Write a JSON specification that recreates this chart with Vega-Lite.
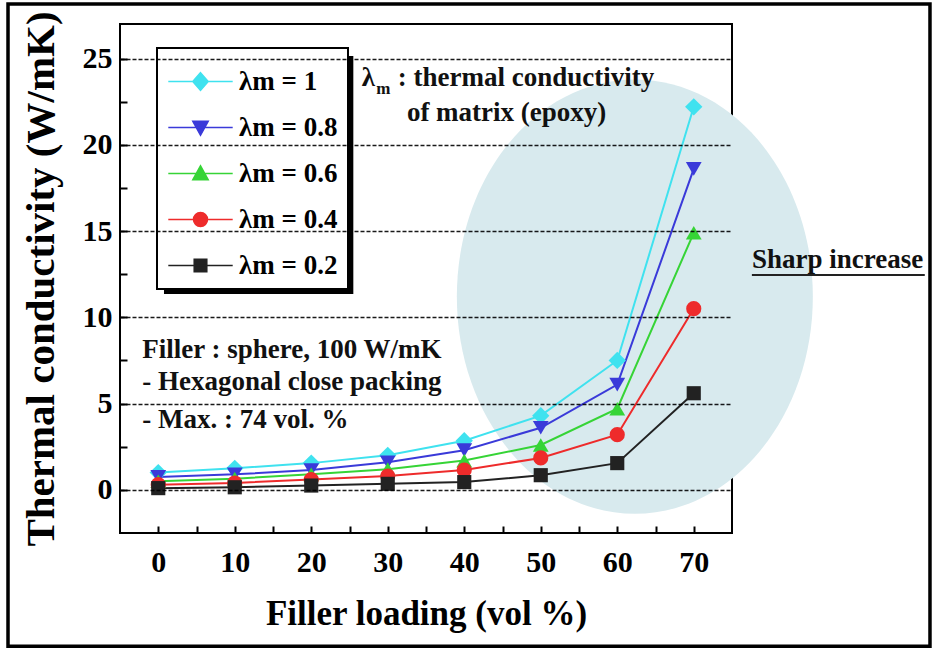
{
  "$schema": "https://vega.github.io/schema/vega-lite/v6.json",
  "width": 612,
  "height": 509,
  "autosize": {"type": "none"},
  "padding": {"left": 120, "top": 24, "right": 204, "bottom": 116},
  "background": "white",
  "config": {
    "view": {"stroke": "black", "strokeWidth": 2},
    "font": "Liberation Serif",
    "axis": {"labelFont": "Liberation Serif", "titleFont": "Liberation Serif", "labelFontWeight": "bold", "titleFontWeight": "bold", "labelColor": "black", "titleColor": "black", "domainColor": "black", "tickColor": "black", "domainWidth": 2, "tickWidth": 2}
  },
  "datasets": {
    "main": [
      {"series": "λm = 1", "loading": 0, "conductivity": 1.0},
      {"series": "λm = 1", "loading": 10, "conductivity": 1.25},
      {"series": "λm = 1", "loading": 20, "conductivity": 1.55},
      {"series": "λm = 1", "loading": 30, "conductivity": 2.0},
      {"series": "λm = 1", "loading": 40, "conductivity": 2.85},
      {"series": "λm = 1", "loading": 50, "conductivity": 4.3},
      {"series": "λm = 1", "loading": 60, "conductivity": 7.5},
      {"series": "λm = 1", "loading": 70, "conductivity": 22.2},
      {"series": "λm = 0.8", "loading": 0, "conductivity": 0.75},
      {"series": "λm = 0.8", "loading": 10, "conductivity": 0.9},
      {"series": "λm = 0.8", "loading": 20, "conductivity": 1.15},
      {"series": "λm = 0.8", "loading": 30, "conductivity": 1.6},
      {"series": "λm = 0.8", "loading": 40, "conductivity": 2.3},
      {"series": "λm = 0.8", "loading": 50, "conductivity": 3.6},
      {"series": "λm = 0.8", "loading": 60, "conductivity": 6.1},
      {"series": "λm = 0.8", "loading": 70, "conductivity": 18.6},
      {"series": "λm = 0.6", "loading": 0, "conductivity": 0.5},
      {"series": "λm = 0.6", "loading": 10, "conductivity": 0.65},
      {"series": "λm = 0.6", "loading": 20, "conductivity": 0.9},
      {"series": "λm = 0.6", "loading": 30, "conductivity": 1.2},
      {"series": "λm = 0.6", "loading": 40, "conductivity": 1.7},
      {"series": "λm = 0.6", "loading": 50, "conductivity": 2.6},
      {"series": "λm = 0.6", "loading": 60, "conductivity": 4.7},
      {"series": "λm = 0.6", "loading": 70, "conductivity": 14.9},
      {"series": "λm = 0.4", "loading": 0, "conductivity": 0.3},
      {"series": "λm = 0.4", "loading": 10, "conductivity": 0.4},
      {"series": "λm = 0.4", "loading": 20, "conductivity": 0.6},
      {"series": "λm = 0.4", "loading": 30, "conductivity": 0.8},
      {"series": "λm = 0.4", "loading": 40, "conductivity": 1.15},
      {"series": "λm = 0.4", "loading": 50, "conductivity": 1.85},
      {"series": "λm = 0.4", "loading": 60, "conductivity": 3.2},
      {"series": "λm = 0.4", "loading": 70, "conductivity": 10.5},
      {"series": "λm = 0.2", "loading": 0, "conductivity": 0.1},
      {"series": "λm = 0.2", "loading": 10, "conductivity": 0.15},
      {"series": "λm = 0.2", "loading": 20, "conductivity": 0.25},
      {"series": "λm = 0.2", "loading": 30, "conductivity": 0.35},
      {"series": "λm = 0.2", "loading": 40, "conductivity": 0.45},
      {"series": "λm = 0.2", "loading": 50, "conductivity": 0.85},
      {"series": "λm = 0.2", "loading": 60, "conductivity": 1.55},
      {"series": "λm = 0.2", "loading": 70, "conductivity": 5.6}
    ]
  },
  "layer": [
    {
      "data": {"values": [{}]},
      "mark": {"type": "rect", "fill": "white", "fillOpacity": 0, "stroke": "black", "strokeWidth": 3.5},
      "encoding": {
        "x": {"datum": -19.64, "type": "quantitative"},
        "x2": {"datum": 100.88},
        "y": {"datum": 28.16, "type": "quantitative"},
        "y2": {"datum": -9.06}
      }
    },
    {
      "data": {"values": [{}]},
      "mark": {"type": "point", "filled": true, "color": "#d8eaee", "opacity": 1, "size": 126736,
        "shape": "M1,0C1,0.674 0.552,1.22 0,1.22C-0.552,1.22 -1,0.674 -1,0C-1,-0.674 -0.552,-1.22 0,-1.22C0.552,-1.22 1,-0.674 1,0Z"},
      "encoding": {
        "x": {"datum": 62.3, "type": "quantitative"},
        "y": {"datum": 11.2, "type": "quantitative"}
      }
    },
    {
      "data": {"values": [{}]},
      "mark": {"type": "rect", "fill": "black"},
      "encoding": {
        "x": {"datum": 0.75, "type": "quantitative"},
        "x2": {"datum": 25.5},
        "y": {"datum": 25.15, "type": "quantitative"},
        "y2": {"datum": 11.35}
      }
    },
    {
      "data": {"name": "main"},
      "encoding": {
        "x": {
          "field": "loading", "type": "quantitative",
          "scale": {"domain": [-5, 75], "nice": false, "zero": false},
          "axis": {
            "title": "Filler loading (vol %)", "titleFontSize": 35, "titlePadding": 19,
            "labelFontSize": 30, "labelPadding": 14, "grid": false, "zindex": 1,
            "domain": false, "offset": -7, "ticks": true, "tickSize": 7,
            "values": [0, 5, 10, 15, 20, 25, 30, 35, 40, 45, 50, 55, 60, 65, 70],
            "labelExpr": "datum.value % 10 === 0 ? datum.label : ''"
          }
        },
        "y": {
          "field": "conductivity", "type": "quantitative",
          "scale": {"domain": [-2.5, 27], "nice": false, "zero": false},
          "axis": {
            "title": "Thermal conductivity (W/mK)", "titleFontSize": 41, "titlePadding": 20,
            "labelFontSize": 30, "labelPadding": 8, "zindex": 1,
            "domain": false, "offset": -7, "ticks": true, "tickSize": 7,
            "values": [0, 2.5, 5, 7.5, 10, 12.5, 15, 17.5, 20, 22.5, 25],
            "labelExpr": "datum.value % 5 === 0 ? datum.label : ''",
            "grid": true, "gridColor": "black", "gridDash": [4, 2], "gridWidth": 1.5,
            "gridOpacity": {"condition": {"test": "datum.value % 5 === 0", "value": 0.9}, "value": 0}
          }
        },
        "color": {
          "field": "series", "type": "nominal",
          "sort": ["λm = 1", "λm = 0.8", "λm = 0.6", "λm = 0.4", "λm = 0.2"],
          "scale": {"domain": ["λm = 1", "λm = 0.8", "λm = 0.6", "λm = 0.4", "λm = 0.2"], "range": ["#3fe2ef", "#3a3ad9", "#36d436", "#ee2b2b", "#222222"]},
          "legend": {
            "orient": "none", "legendX": 37, "legendY": 24, "title": " ", "titleFontSize": 6, "titlePadding": 4,
            "fillColor": "white", "strokeColor": "black", "padding": 10,
            "labelFont": "Liberation Serif", "labelFontWeight": "bold", "labelFontSize": 27, "labelColor": "black",
            "symbolSize": 196, "symbolOffset": 20, "labelOffset": 25, "rowPadding": 18,
            "encode": {
              "legend": {"update": {"strokeWidth": {"value": 2}}},
              "symbols": {
                "update": {
                  "shape": {"signal": "['M-4.6,0L4.6,0M0,-1.25L1.1,0L0,1.25L-1.1,0Z','M-4.6,0L4.6,0M-1.1,-0.9L1.1,-0.9L0,1.1Z','M-4.6,0L4.6,0M-1.1,0.9L1.1,0.9L0,-1.1Z','M-4.6,0L4.6,0M1,0C1,0.552 0.552,1 0,1C-0.552,1 -1,0.552 -1,0C-1,-0.552 -0.552,-1 0,-1C0.552,-1 1,-0.552 1,0Z','M-4.6,0L4.6,0M-0.9,-0.9L0.9,-0.9L0.9,0.9L-0.9,0.9Z'][datum.index]"},
                  "strokeWidth": {"value": 1.5}
                }
              }
            }
          }
        }
      },
      "layer": [
        {"mark": {"type": "line", "strokeWidth": 2}},
        {"transform": [{"filter": "datum.series === 'λm = 1'"}], "mark": {"type": "point", "shape": "diamond", "filled": true, "size": 300, "opacity": 1}},
        {"transform": [{"filter": "datum.series === 'λm = 0.8'"}], "mark": {"type": "point", "shape": "triangle-down", "filled": true, "size": 250, "opacity": 1}},
        {"transform": [{"filter": "datum.series === 'λm = 0.6'"}], "mark": {"type": "point", "shape": "triangle-up", "filled": true, "size": 250, "opacity": 1}},
        {"transform": [{"filter": "datum.series === 'λm = 0.4'"}], "mark": {"type": "point", "shape": "circle", "filled": true, "size": 230, "opacity": 1}},
        {"transform": [{"filter": "datum.series === 'λm = 0.2'"}], "mark": {"type": "point", "shape": "square", "filled": true, "size": 200, "opacity": 1}}
      ]
    },
    {
      "data": {"values": [{}]},
      "mark": {"type": "text", "font": "Liberation Serif", "fontWeight": "bold", "fontSize": 27, "align": "left", "baseline": "alphabetic", "color": "#111"},
      "encoding": {"x": {"datum": 26.6, "type": "quantitative"}, "y": {"datum": 23.41, "type": "quantitative"}, "text": {"value": "λ"}}
    },
    {
      "data": {"values": [{}]},
      "mark": {"type": "text", "font": "Liberation Serif", "fontWeight": "bold", "fontSize": 17, "align": "left", "baseline": "alphabetic", "color": "#111"},
      "encoding": {"x": {"datum": 28.5, "type": "quantitative"}, "y": {"datum": 22.95, "type": "quantitative"}, "text": {"value": "m"}}
    },
    {
      "data": {"values": [{}]},
      "mark": {"type": "text", "font": "Liberation Serif", "fontWeight": "bold", "fontSize": 27, "align": "left", "baseline": "alphabetic", "color": "#111"},
      "encoding": {"x": {"datum": 31.3, "type": "quantitative"}, "y": {"datum": 23.41, "type": "quantitative"}, "text": {"value": ": thermal conductivity"}}
    },
    {
      "data": {"values": [{}]},
      "mark": {"type": "text", "font": "Liberation Serif", "fontWeight": "bold", "fontSize": 27, "align": "left", "baseline": "alphabetic", "color": "#111"},
      "encoding": {"x": {"datum": 32.5, "type": "quantitative"}, "y": {"datum": 21.4, "type": "quantitative"}, "text": {"value": "of matrix (epoxy)"}}
    },
    {
      "data": {"values": [{}]},
      "mark": {"type": "text", "font": "Liberation Serif", "fontWeight": "bold", "fontSize": 27, "align": "left", "baseline": "alphabetic", "color": "#111"},
      "encoding": {"x": {"datum": -2.1, "type": "quantitative"}, "y": {"datum": 7.65, "type": "quantitative"}, "text": {"value": "Filler : sphere, 100 W/mK"}}
    },
    {
      "data": {"values": [{}]},
      "mark": {"type": "text", "font": "Liberation Serif", "fontWeight": "bold", "fontSize": 27, "align": "left", "baseline": "alphabetic", "color": "#111"},
      "encoding": {"x": {"datum": -2.1, "type": "quantitative"}, "y": {"datum": 5.78, "type": "quantitative"}, "text": {"value": "- Hexagonal close packing"}}
    },
    {
      "data": {"values": [{}]},
      "mark": {"type": "text", "font": "Liberation Serif", "fontWeight": "bold", "fontSize": 27, "align": "left", "baseline": "alphabetic", "color": "#111"},
      "encoding": {"x": {"datum": -2.1, "type": "quantitative"}, "y": {"datum": 3.58, "type": "quantitative"}, "text": {"value": "- Max. : 74 vol. %"}}
    },
    {
      "data": {"values": [{}]},
      "mark": {"type": "text", "font": "Liberation Serif", "fontWeight": "bold", "fontSize": 27, "align": "left", "baseline": "alphabetic", "color": "#111"},
      "encoding": {"x": {"datum": 77.6, "type": "quantitative"}, "y": {"datum": 12.86, "type": "quantitative"}, "text": {"value": "Sharp increase"}}
    },
    {
      "data": {"values": [{}]},
      "mark": {"type": "rule", "color": "#222", "strokeWidth": 2},
      "encoding": {"x": {"datum": 77.6, "type": "quantitative"}, "x2": {"datum": 100.2}, "y": {"datum": 12.45, "type": "quantitative"}}
    }
  ]
}
